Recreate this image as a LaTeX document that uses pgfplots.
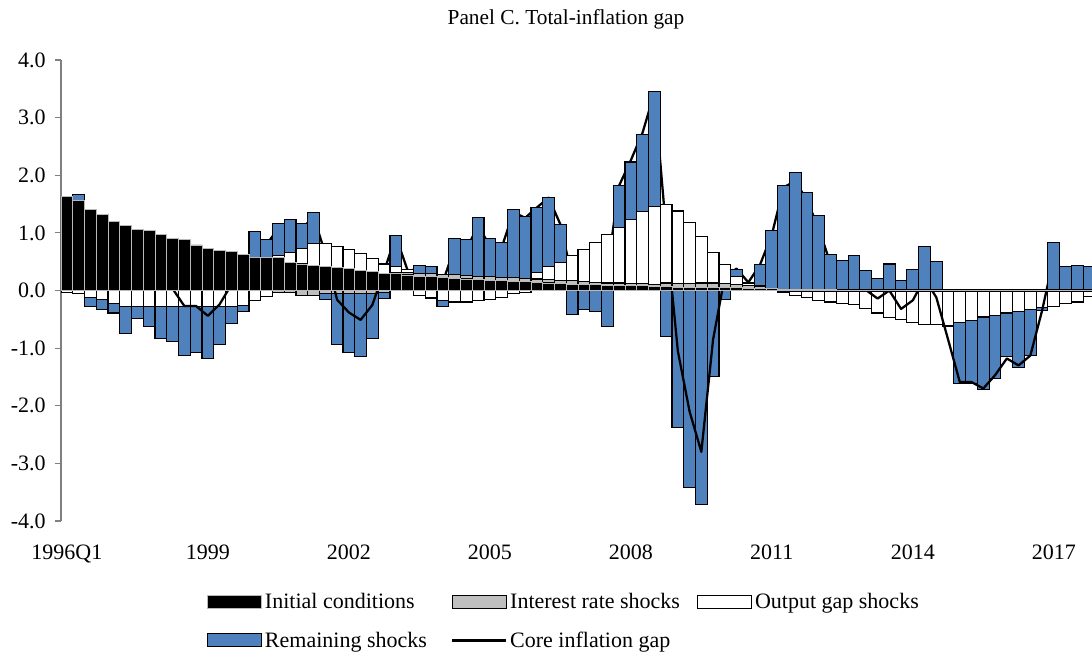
\documentclass[border=0pt]{standalone}
\usepackage{pgfplots}
\pgfplotsset{compat=1.18}
\usepackage{pgfplotstable}
\usepackage{fontspec}
\setmainfont{Liberation Serif}
\definecolor{rsblue}{HTML}{4F81BD}
\definecolor{irgray}{HTML}{BFBFBF}

\pgfplotstableread{
k ic ir og rs core
0 1.63 0.00 -0.03 0.00 1.60
1 1.56 0.00 -0.05 0.10 1.61
2 1.41 0.00 -0.12 -0.16 1.13
3 1.32 0.00 -0.16 -0.17 0.99
4 1.20 0.00 -0.22 -0.17 0.81
5 1.13 0.00 -0.28 -0.47 0.38
6 1.06 0.00 -0.28 -0.21 0.57
7 1.04 0.00 -0.28 -0.35 0.41
8 0.97 0.00 -0.28 -0.56 0.13
9 0.91 0.00 -0.28 -0.60 0.03
10 0.88 0.00 -0.28 -0.85 -0.27
11 0.79 0.00 -0.28 -0.80 -0.27
12 0.73 0.00 -0.28 -0.90 -0.44
13 0.70 0.00 -0.28 -0.66 -0.24
14 0.68 0.00 -0.28 -0.30 0.10
15 0.62 0.00 -0.26 -0.10 0.26
16 0.58 0.00 -0.18 0.44 0.90
17 0.57 0.00 -0.10 0.31 0.80
18 0.58 -0.04 0.02 0.56 1.08
19 0.48 -0.04 0.18 0.58 1.20
20 0.46 -0.08 0.27 0.43 1.07
21 0.43 -0.08 0.38 0.54 1.28
22 0.42 -0.06 0.39 -0.10 0.64
23 0.40 -0.05 0.36 -0.89 -0.16
24 0.38 -0.05 0.33 -1.03 -0.38
25 0.35 -0.05 0.29 -1.10 -0.51
26 0.33 -0.05 0.22 -0.78 -0.25
27 0.30 -0.04 0.16 -0.10 0.34
28 0.29 0.02 0.10 0.54 0.94
29 0.27 0.04 0.06 0.00 0.35
30 0.25 0.05 -0.09 0.14 0.36
31 0.24 0.05 -0.13 0.12 0.25
32 0.23 0.05 -0.17 -0.10 0.15
33 0.21 0.06 -0.20 0.64 0.74
34 0.20 0.06 -0.20 0.62 0.72
35 0.19 0.06 -0.18 1.02 1.12
36 0.18 0.06 -0.16 0.67 0.78
37 0.17 0.06 -0.12 0.61 0.74
38 0.16 0.06 -0.06 1.18 1.36
39 0.15 0.06 -0.04 1.07 1.26
40 0.14 0.06 0.11 1.13 1.44
41 0.13 0.06 0.23 1.20 1.61
42 0.12 0.06 0.31 0.65 1.15
43 0.11 0.06 0.44 -0.42 0.23
44 0.11 0.05 0.55 -0.33 0.38
45 0.10 0.04 0.69 -0.36 0.50
46 0.09 0.04 0.84 -0.63 0.35
47 0.09 0.04 0.97 0.72 1.82
48 0.08 0.04 1.11 1.00 2.26
49 0.08 0.04 1.25 1.34 2.74
50 0.07 0.04 1.34 2.00 3.43
51 0.07 0.06 1.36 -0.80 1.05
52 0.06 0.06 1.26 -2.38 -1.05
53 0.06 0.06 1.06 -3.42 -2.10
54 0.06 0.07 0.81 -3.72 -2.80
55 0.06 0.07 0.53 -1.49 -0.85
56 0.05 0.07 0.33 -0.16 0.25
57 0.05 0.06 0.13 0.13 0.38
58 0.04 0.04 0.05 0.00 0.14
59 0.04 0.03 0.02 0.36 0.45
60 0.03 0.01 0.00 1.00 0.97
61 0.02 -0.01 -0.03 1.80 1.79
62 0.02 -0.02 -0.07 2.02 1.90
63 0.02 -0.02 -0.10 1.68 1.56
64 0.02 -0.02 -0.15 1.28 1.07
65 0.02 -0.02 -0.18 0.61 0.46
66 0.01 -0.02 -0.20 0.51 0.33
67 0.01 -0.02 -0.23 0.60 0.35
68 0.01 -0.02 -0.30 0.34 0.01
69 0.01 -0.02 -0.37 0.20 -0.14
70 0.01 -0.02 -0.45 0.45 0.00
71 0.01 -0.02 -0.49 0.16 -0.32
72 0.01 -0.02 -0.54 0.35 -0.17
73 0.01 -0.02 -0.57 0.76 0.21
74 0.01 -0.02 -0.57 0.49 -0.12
75 0.01 -0.02 -0.59 -0.02 -0.85
76 0.01 -0.02 -0.53 -1.07 -1.59
77 0.01 -0.02 -0.50 -1.10 -1.59
78 0.01 -0.02 -0.44 -1.26 -1.70
79 0.01 -0.02 -0.42 -1.09 -1.47
80 0.01 -0.02 -0.37 -0.76 -1.18
81 0.01 -0.02 -0.34 -0.97 -1.30
82 0.01 -0.02 -0.31 -0.80 -1.13
83 0.01 -0.02 -0.28 -0.05 -0.35
84 0.01 -0.02 -0.26 0.82 0.58
85 0.01 -0.02 -0.21 0.41 0.19
86 0.01 -0.02 -0.18 0.43 0.24
87 0.01 -0.02 -0.08 0.41 0.33
}\data

\pgfplotsset{
  base/.style={
    at={(0pt,0pt)}, anchor=south west,
    width=773.25pt, height=345.75pt, scale only axis,
    xmin=-0.5, xmax=87.25, ymin=-4, ymax=4,
    ybar stacked, bar width=1,
  },
  icst/.style={fill=black, draw=gray!55, line width=0.6pt},
  irst/.style={fill=irgray, draw=black, line width=0.8pt},
  ogst/.style={fill=white, draw=black, line width=0.8pt},
  rsst/.style={fill=rsblue, draw=black, line width=0.8pt},
  boxlegend/.style={legend image code/.code={\draw[##1] (0pt,-4.9pt) rectangle (40.5pt,4.9pt);}},
  linelegend/.style={legend image code/.code={\draw[##1] (0pt,0pt) -- (40.5pt,0pt);}},
}

\begin{document}
\begin{tikzpicture}
% negative parts (drawn first) with the axes
\begin{axis}[base,
  axis x line*=bottom, axis y line*=left,
  x axis line style={draw=none},
  y axis line style={draw=gray, line width=0.8pt},
  xtick={0,12,...,84},
  xticklabels={1996Q1,1999,2002,2005,2008,2011,2014,2017},
  xtick style={draw=none},
  ytick={-4,-3,...,4},
  ytick style={draw=gray, line width=0.8pt},
  tick align=outside, major tick length=4.5pt,
  /pgf/number format/assume math mode=true,
  yticklabel={\pgfmathprintnumber[fixed,fixed zerofill,precision=1]{\tick}},
  tick label style={font=\fontsize{16.5}{19}\selectfont},
  xticklabel style={yshift=-10pt},
  yticklabel style={xshift=-3.5pt},
]
\addplot[icst] table[x=k, y expr={min(\thisrow{ic},0)}]{\data};
\addplot[irst] table[x=k, y expr={min(\thisrow{ir},0)}]{\data};
\addplot[ogst] table[x=k, y expr={min(\thisrow{og},0)}]{\data};
\addplot[rsst] table[x=k, y expr={min(\thisrow{rs},0)}]{\data};
\end{axis}
% positive parts, zero line, core line, legend
\begin{axis}[base, hide axis,
  legend columns=3,
  legend cell align=left,
  legend style={at={(0.1416,-0.15)}, anchor=north west, draw=none, fill=none,
    inner sep=0pt, font=\fontsize{16.5}{19}\selectfont, row sep=12pt,
    /tikz/column 2/.append style={column sep=16.25pt},
    /tikz/column 4/.append style={column sep=11pt}},
]
\addplot[icst, boxlegend] table[x=k, y expr={max(\thisrow{ic},0)}]{\data};
\addlegendentry{Initial conditions}
\addplot[irst, boxlegend] table[x=k, y expr={max(\thisrow{ir},0)}]{\data};
\addlegendentry{Interest rate shocks}
\addplot[ogst, boxlegend] table[x=k, y expr={max(\thisrow{og},0)}]{\data};
\addlegendentry{Output gap shocks}
\addplot[rsst, boxlegend] table[x=k, y expr={max(\thisrow{rs},0)}]{\data};
\addlegendentry{Remaining shocks}
\addplot[stack plots=false, sharp plot, black, line width=1.5pt, forget plot] coordinates {(-0.5,0) (87.5,0)};
\addplot[stack plots=false, sharp plot, black, line width=1.7pt, line join=round, mark=none, linelegend]
  table[x=k, y=core]{\data};
\addlegendentry{Core inflation gap}
\end{axis}
\node[anchor=base, inner sep=0pt, font=\fontsize{16}{19}\selectfont] at (378.75pt,372pt) {Panel C. Total-inflation gap};
\pgfresetboundingbox
\path[use as bounding box] (-45.75pt,-100.5pt) rectangle (773.25pt,390.75pt);
\end{tikzpicture}
\end{document}
